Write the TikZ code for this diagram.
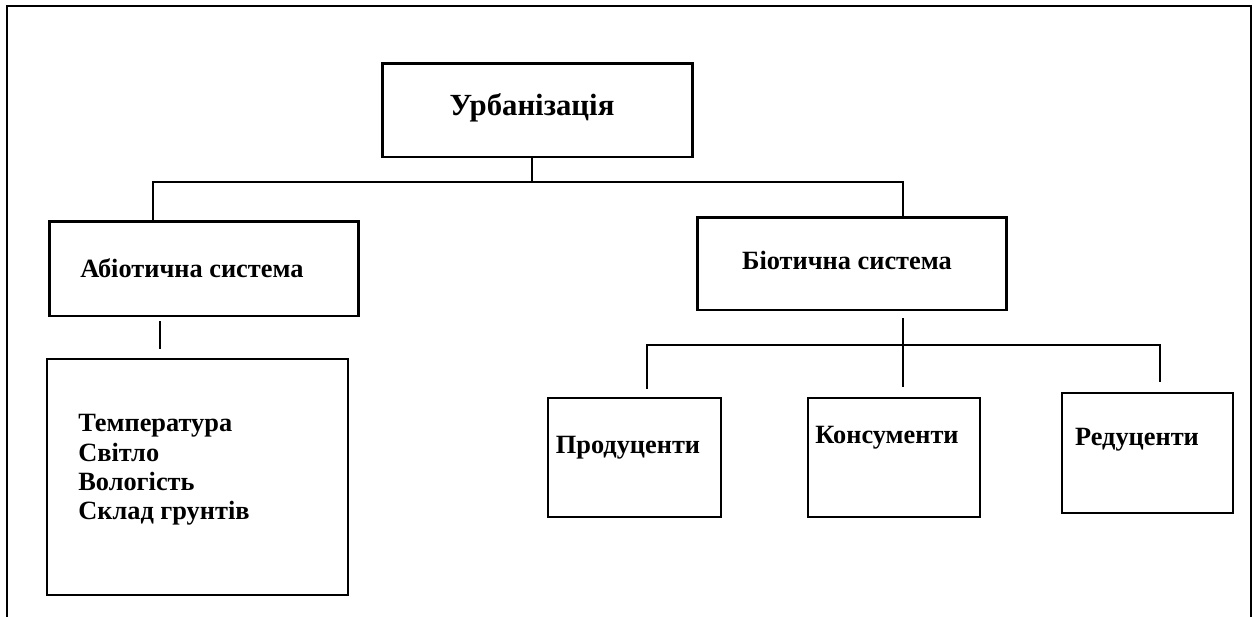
\documentclass[tikz,border=0pt]{standalone}
\usepackage{fontspec}
\setmainfont{Liberation Serif}
\begin{document}
\begin{tikzpicture}[x=0.02cm, y=-0.02cm,
  box/.style={draw, line width=1.7pt, inner sep=0pt},
  thinbox/.style={draw, line width=1.1pt, inner sep=0pt},
  conn/.style={line width=0.9pt},
  lbl/.style={font=\bfseries\fontsize{15}{16.5}\selectfont, inner sep=0pt}]
\useasboundingbox (0,0) rectangle (1258,616);
\draw[line width=1.1pt] (7,630) -- (7,6) -- (1251,6) -- (1251,630);
\node[box, minimum width=6.22cm, minimum height=1.88cm] (urb) at (537.5,110) {};
\node[lbl, font=\bfseries\fontsize{17.5}{19}\selectfont] (urbt) at (532,108) {Урбанізація};
\node[box, minimum width=6.2cm, minimum height=1.9cm] (abio) at (204,268.5) {};
\node[lbl, anchor=west] (abiot) at (80,268) {Абіотична система};
\node[thinbox, minimum width=6.02cm, minimum height=4.72cm] (fact) at (197.5,477) {};
\node[lbl, anchor=west, align=left, font=\bfseries\fontsize{15}{16.7}\selectfont] (factt) at (78,470) {Температура\\Світло\\Вологість\\Склад грунтів};
\node[box, minimum width=6.2cm, minimum height=1.86cm] (bio) at (852,263.5) {};
\node[lbl] (biot) at (847,260) {Біотична система};
\node[thinbox, minimum width=3.46cm, minimum height=2.38cm] (prod) at (634.5,457.5) {};
\node[lbl] (prodt) at (628,448) {Продуценти};
\node[thinbox, minimum width=3.44cm, minimum height=2.38cm] (kons) at (894,457.5) {};
\node[lbl] (konst) at (887,438) {Консументи};
\node[thinbox, minimum width=3.42cm, minimum height=2.4cm] (red) at (1147.5,453) {};
\node[lbl] (redt) at (1137,440) {Редуценти};
\coordinate (jl) at (153,182);
\coordinate (jr) at (903,182);
\coordinate (fx) at (160,0);
\coordinate (bl) at (647,345);
\coordinate (bm) at (903,345);
\coordinate (br) at (1160,345);
\draw[conn] (urb.south -| 532,0) -- (532,182);
\draw[conn] (abio.north -| jl) -- (jl) -- (jr) -- (bio.north -| jr);
\draw[conn, shorten <=0.08cm, shorten >=0.18cm] (abio.south -| fx) -- (fact.north -| fx);
\draw[conn, shorten <=0.14cm, shorten >=0.2cm] (bio.south -| bm) -- (kons.north -| bm);
\draw[conn, shorten <=0.16cm, shorten >=0.2cm] (prod.north -| bl) -- (bl) -- (br) -- (red.north -| br);
\end{tikzpicture}
\end{document}
